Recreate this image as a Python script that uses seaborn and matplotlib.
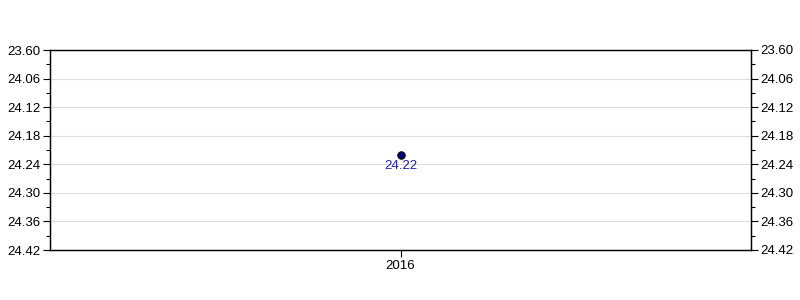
import matplotlib
matplotlib.use("Agg")
import matplotlib.pyplot as plt
import seaborn as sns
import pandas as pd
from matplotlib.ticker import MultipleLocator

years = ["2016"]
values = [24.22]
ytick_values = [24.00, 24.06, 24.12, 24.18, 24.24, 24.30, 24.36, 24.42]
ytick_labels = ["23.60", "24.06", "24.12", "24.18", "24.24", "24.30", "24.36", "24.42"]

sns.set_theme(style="white")
plt.rcParams['font.family'] = ['Liberation Sans', 'DejaVu Sans']

df = pd.DataFrame({"year": years, "value": values})

fig = plt.figure(figsize=(8, 3), dpi=100)
ax = fig.add_axes([50/800, 50/300, 701/800, 200/300])

sns.scatterplot(data=df, x="year", y="value", ax=ax, color="#000080",
                edgecolor="black", linewidth=0.8, s=28, zorder=5)
for x, v in zip(df["year"], df["value"]):
    ax.annotate(f"{v:.2f}", (x, v), xytext=(0, -3.5), textcoords="offset points",
                ha="center", va="top", color="#2222aa", fontsize=9.5)

ax.set_xlim(-0.5, 0.5)
ax.set_ylim(ytick_values[-1], ytick_values[0])
ax.set_yticks(ytick_values)
ax.set_yticklabels(ytick_labels)
ax.yaxis.set_minor_locator(MultipleLocator(0.03))
ax.set_xlabel("")
ax.set_ylabel("")
ax.grid(axis="y", color="#dddddd", linewidth=0.8)
ax.set_axisbelow(True)
for s in ax.spines.values():
    s.set_color("black")
    s.set_linewidth(0.9)
ax.tick_params(axis="both", which="major", direction="out", length=5, width=0.8,
               color="black", labelsize=9.5, labelcolor="black", left=True, bottom=True, pad=2)
ax.tick_params(axis="y", which="minor", direction="out", length=3, width=0.8,
               color="black", left=True)

ax2 = ax.twinx()
ax2.set_ylim(ax.get_ylim())
ax2.set_yticks(ytick_values)
ax2.set_yticklabels(ytick_labels)
ax2.yaxis.set_minor_locator(MultipleLocator(0.03))
ax2.tick_params(axis="y", which="major", direction="out", length=5, width=0.8,
                color="black", labelsize=9.5, labelcolor="black", right=True, pad=2)
ax2.tick_params(axis="y", which="minor", direction="out", length=3, width=0.8,
                color="black", right=True)
ax2.grid(False)
for s in ax2.spines.values():
    s.set_color("black")
    s.set_linewidth(0.9)

fig.savefig("out.png", dpi=100, facecolor="white")
